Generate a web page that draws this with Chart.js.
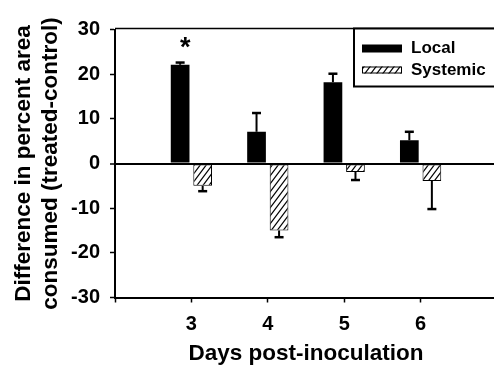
<!DOCTYPE html>
<html>
<head>
<meta charset="utf-8">
<script src="https://cdn.jsdelivr.net/npm/chart.js@4"></script>
<style>
  html, body { margin: 0; padding: 0; background: #fff; overflow: hidden; }
  #wrap { width: 494px; height: 367px; overflow: hidden; }
  canvas { display: block; }
</style>
</head>
<body>
<!-- canvas runs a bit past the window: the x scale keeps 10px free on its right -->
<div id="wrap"><canvas id="chart" width="507" height="367"></canvas></div>
<script>
const days = [3, 4, 5, 6];
const localValues = [22.1, 7.1, 18.2, 5.2];
const localErrors = [0.5, 4.2, 1.9, 1.9];
const systemicValues = [-5.0, -15.0, -1.9, -3.9];
const systemicErrors = [1.2, 1.5, 1.8, 6.3];
const localMarks = ['*', '', '', ''];
const seriesNames = ['Local', 'Systemic'];

const FONT = "'Liberation Sans', Arial, Helvetica, sans-serif";

// one blank category on each side so the days sit where the paper has them
const xLabels = [days[0] - 1, ...days, days[days.length - 1] + 1].map(String);

function makeHatch() {
    const c = document.createElement('canvas');
    c.width = 6;
    c.height = 8;
    const g = c.getContext('2d');
    g.fillStyle = '#fff';
    g.fillRect(0, 0, 6, 8);
    g.strokeStyle = '#000';
    g.lineWidth = 1.2;
    for (let s = -6; s <= 6; s += 6) {
        g.beginPath();
        g.moveTo(s - 3, 12);
        g.lineTo(s + 9, -4);
        g.stroke();
    }
    return g.createPattern(c, 'repeat');
}
const hatch = makeHatch();

const extras = {
    id: 'extras',
    afterDatasetsDraw(chart) {
        const ctx = chart.ctx;
        const yScale = chart.scales.y;
        const vals = [localValues, systemicValues];
        const errs = [localErrors, systemicErrors];
        ctx.save();
        ctx.strokeStyle = '#000';
        ctx.fillStyle = '#000';
        vals.forEach((series, di) => {
            chart.getDatasetMeta(di).data.forEach((bar, i) => {
                const v = series[i];
                const end = v + Math.sign(v) * errs[di][i];
                const y0 = yScale.getPixelForValue(v);
                const y1 = yScale.getPixelForValue(end);
                ctx.lineWidth = 2;
                ctx.beginPath();
                ctx.moveTo(bar.x, y0);
                ctx.lineTo(bar.x, y1);
                ctx.stroke();
                ctx.lineWidth = 2.5;
                ctx.beginPath();
                ctx.moveTo(bar.x - 4.5, y1);
                ctx.lineTo(bar.x + 4.5, y1);
                ctx.stroke();
                if (di === 0 && localMarks[i]) {
                    ctx.font = 'bold 27px ' + FONT;
                    ctx.textAlign = 'center';
                    ctx.textBaseline = 'alphabetic';
                    ctx.fillText(localMarks[i], bar.x + 5, y1 - 7);
                }
            });
        });
        ctx.restore();
    },
    afterDraw(chart) {
        const ctx = chart.ctx;
        const area = chart.chartArea;
        ctx.save();
        // frame line along the top
        ctx.strokeStyle = '#000';
        ctx.lineWidth = 1.5;
        ctx.beginPath();
        ctx.moveTo(area.left, area.top - 1);
        ctx.lineTo(area.right, area.top - 1);
        ctx.stroke();

        // legend box
        const left = 354;
        const top = area.top - 1;
        ctx.lineWidth = 2;
        ctx.fillStyle = '#fff';
        ctx.fillRect(left, top, 160, 58);
        ctx.strokeRect(left, top, 160, 58);

        ctx.fillStyle = '#000';
        ctx.fillRect(left + 8, top + 16, 40, 8);
        ctx.fillStyle = hatch;
        ctx.fillRect(left + 8, top + 38, 40, 7);
        ctx.lineWidth = 1;
        ctx.strokeRect(left + 8.5, top + 38.5, 39, 6);

        ctx.fillStyle = '#000';
        ctx.font = 'bold 17px ' + FONT;
        ctx.textAlign = 'left';
        ctx.textBaseline = 'middle';
        ctx.fillText(seriesNames[0], left + 57, top + 20);
        ctx.fillText(seriesNames[1], left + 57, top + 42);
        ctx.restore();
    }
};

new Chart(document.getElementById('chart'), {
    type: 'bar',
    data: {
        labels: xLabels,
        datasets: [{
            label: seriesNames[0],
            data: days.map((d, i) => ({x: String(d), y: localValues[i]})),
            backgroundColor: '#000',
            borderColor: '#000',
            borderWidth: 0
        }, {
            label: seriesNames[1],
            data: days.map((d, i) => ({x: String(d), y: systemicValues[i]})),
            backgroundColor: hatch,
            borderColor: '#000',
            borderWidth: 1,
            borderSkipped: false
        }]
    },
    options: {
        responsive: false,
        animation: false,
        devicePixelRatio: 1,
        categoryPercentage: 0.59,
        barPercentage: 0.83,
        layout: {padding: {top: 29.5, left: 0, right: 0, bottom: 0}},
        plugins: {
            legend: {display: false},
            tooltip: {enabled: false}
        },
        scales: {
            x: {
                type: 'category',
                offset: false,
                afterFit(scale) { scale.height = 69.5; },
                border: {color: '#000', width: 2},
                grid: {
                    offset: false,
                    drawOnChartArea: false,
                    tickLength: 5,
                    tickColor: '#000',
                    tickWidth: 1.5
                },
                ticks: {
                    autoSkip: false,
                    maxRotation: 0,
                    padding: 10,
                    color: '#000',
                    font: {family: FONT, size: 20, weight: 'bold'},
                    callback(value, index) {
                        if (index === 0 || index === xLabels.length - 1) return '';
                        return this.getLabelForValue(value);
                    }
                },
                title: {
                    display: true,
                    text: 'Days post-inoculation',
                    color: '#000',
                    font: {family: FONT, size: 22.5, weight: 'bold', lineHeight: 1.2},
                    padding: {top: 0, bottom: 0}
                }
            },
            y: {
                min: -30,
                max: 30,
                afterFit(scale) { scale.width = 115; },
                border: {color: '#000', width: 2},
                grid: {
                    color: c => (c.tick && c.tick.value === 0) ? '#000' : 'rgba(0,0,0,0)',
                    lineWidth: c => (c.tick && c.tick.value === 0) ? 2 : 1,
                    tickColor: '#000',
                    tickLength: 5,
                    tickWidth: 1.5
                },
                ticks: {
                    stepSize: 10,
                    padding: 10,
                    color: '#000',
                    font: {family: FONT, size: 20, weight: 'bold'}
                },
                title: {
                    display: true,
                    text: ['Difference in percent area', 'consumed (treated-control)'],
                    color: '#000',
                    font: {family: FONT, size: 22.5, weight: 'bold', lineHeight: 1.2},
                    padding: {top: 10, bottom: 0}
                }
            }
        }
    },
    plugins: [extras]
});
</script>
</body>
</html>
